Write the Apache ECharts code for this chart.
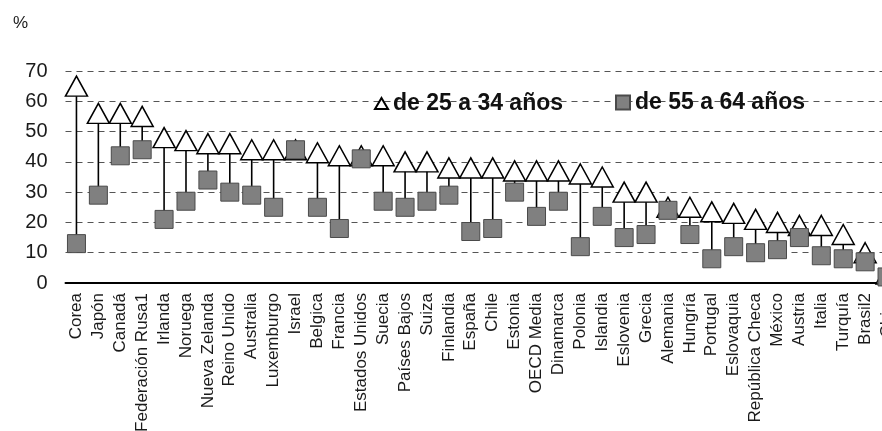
<!DOCTYPE html>
<html>
<head>
<meta charset="utf-8">
<script src="https://cdn.jsdelivr.net/npm/echarts@6/dist/echarts.min.js"></script>
<style>
html,body{margin:0;padding:0;background:#fff;overflow:hidden;width:882px;height:431px;}
#chart{width:898px;height:431px;}
</style>
</head>
<body>
<div id="chart"></div>
<script>
const categories = ['Corea','Japón','Canadá','Federación Rusa1','Irlanda','Noruega','Nueva Zelanda','Reino Unido','Australia','Luxemburgo','Israel','Belgica','Francia','Estados Unidos','Suecia','Países Bajos','Suiza','Finlandia','España','Chile','Estonia','OECD Media','Dinamarca','Polonia','Islandia','Eslovenia','Grecia','Alemania','Hungría','Portugal','Eslovaquia','República Checa','México','Austria','Italia','Turquía','Brasil2','China'];
const young = [65,56,56,55,48,47,46,46,44,44,44,43,42,42,42,40,40,38,38,38,37,37,37,36,35,30,30,25,25,23.5,23,21,20,19,19,16,10,3];
const old = [13,29,42,44,21,27,34,30,29,25,44,25,18,41,27,25,27,29,17,18,30,22,27,12,22,15,16,24,16,8,12,10,11,15,9,8,7,2];
const yTicks = [0,10,20,30,40,50,60,70];
const seriesNames = ['de 25 a 34 años','de 55 a 64 años'];

const chart = echarts.init(document.getElementById('chart'));
const font = 'Arial, "Liberation Sans", sans-serif';
chart.setOption({
  animation: false,
  backgroundColor: '#fff',
  title: {text: '%', left: 8, top: 10, textStyle: {fontFamily: font, fontSize: 17, fontWeight: 'normal', color: '#1a1a1a'}},
  legend: [
    {data: [seriesNames[0]], left: 369, top: 87, icon: 'triangle', itemWidth: 13, itemHeight: 11, itemGap: 4,
     textStyle: {fontFamily: font, fontSize: 23, fontWeight: 'bold', color: '#111'}},
    {data: [seriesNames[1]], left: 610, top: 86, icon: 'rect', itemWidth: 14, itemHeight: 14, itemGap: 4,
     textStyle: {fontFamily: font, fontSize: 23, fontWeight: 'bold', color: '#111'}}
  ],
  grid: {left: 65.5, top: 71, right: 0, height: 212, containLabel: false, outerBoundsMode: 'none'},
  xAxis: {
    type: 'category', data: categories, boundaryGap: true,
    axisLine: {lineStyle: {color: '#000', width: 2}},
    axisTick: {show: false},
    axisLabel: {rotate: 90, interval: 0, margin: 10, fontFamily: font, fontSize: 17, color: '#1a1a1a'}
  },
  yAxis: {
    type: 'value', min: yTicks[0], max: yTicks[yTicks.length-1], interval: 10,
    axisLine: {show: false}, axisTick: {show: false},
    axisLabel: {margin: 18, fontFamily: font, fontSize: 20, color: '#1a1a1a'},
    splitLine: {show: true, lineStyle: {color: '#555', type: [6, 5], width: 1}}
  },
  series: [
    {
      type: 'custom', name: 'lines', z: 1, silent: true,
      data: categories.map((c, i) => [i, young[i], old[i]]),
      renderItem: function (params, api) {
        const p1 = api.coord([api.value(0), api.value(1)]);
        const p2 = api.coord([api.value(0), api.value(2)]);
        return {type: 'line', shape: {x1: p1[0], y1: p1[1], x2: p2[0], y2: p2[1]}, style: {stroke: '#000', lineWidth: 1.6}};
      }
    },
    {
      type: 'scatter', name: seriesNames[0], z: 2, data: young,
      symbol: 'triangle', symbolSize: [22, 20],
      itemStyle: {color: '#fff', borderColor: '#000', borderWidth: 1.5, opacity: 1}
    },
    {
      type: 'scatter', name: seriesNames[1], z: 3, data: old,
      symbol: 'rect', symbolSize: [18, 18],
      itemStyle: {color: '#808080', borderColor: '#4a4a4a', borderWidth: 1, opacity: 1}
    }
  ]
});
</script>
</body>
</html>
